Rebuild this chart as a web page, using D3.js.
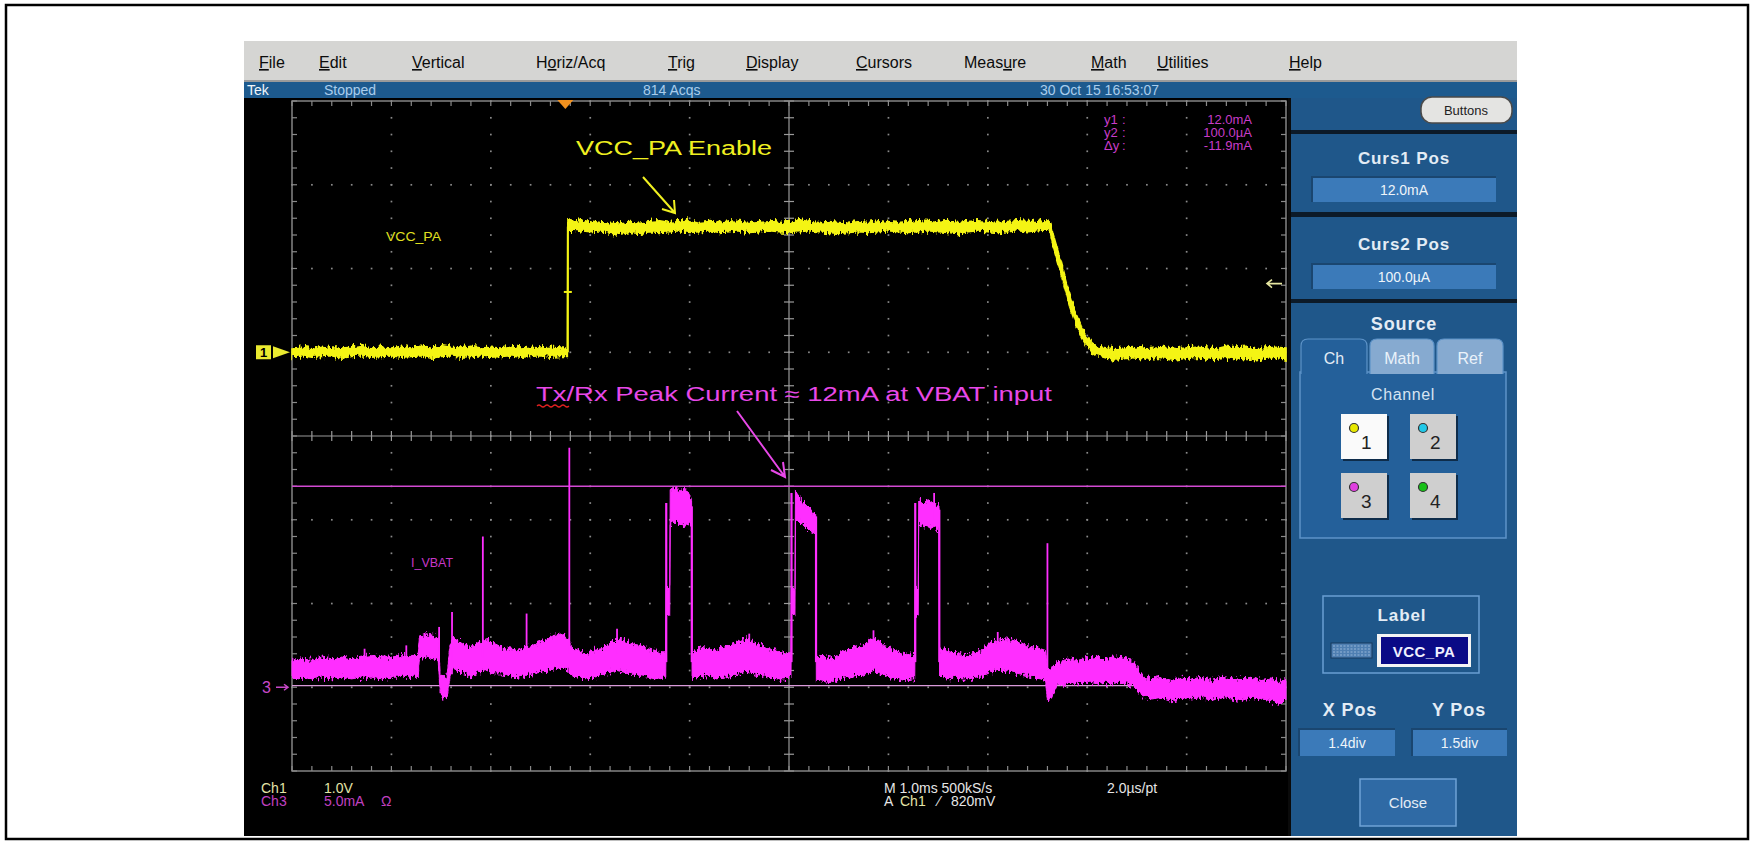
<!DOCTYPE html>
<html><head><meta charset="utf-8">
<script src="https://cdn.jsdelivr.net/npm/d3@7"></script>
<style>
body{margin:0;background:#fff;}
svg{display:block;}
text{font-family:"Liberation Sans",Arial,sans-serif;}
.sc{font-family:"Liberation Sans Narrow","Liberation Sans",Arial,sans-serif;}
</style>
</head><body>
<svg id="c" width="1754" height="843"></svg>
<script>
// ---------------- DATA ----------------
const menuItems = ["File","Edit","Vertical","Horiz/Acq","Trig","Display","Cursors","Measure","Math","Utilities","Help"];
const menuUnderline = [0,0,0,1,0,0,0,4,0,0,0];
const statusTexts = ["Tek","Stopped","814 Acqs","30 Oct 15 16:53:07"];
const timeDomainMs = [0, 10];          // 1.0 ms/div, 10 div
const ch1VoltDomain = [-5, 3];         // 1.0 V/div, ground 1 div above centre
const ch3mADomain = [-5, 35];          // 5.0 mA/div, ground 3 div below centre
const cursorValues_mA = [12.0, 0.1];
const cursorReadout = [["y1",":","12.0mA"],["y2",":","100.0µA"],["Δy",":","-11.9mA"]];
const triggerTimeMs = 2.75;
const triggerLevelV = 0.82;

// CH1 VCC_PA envelope: [time ms, low V, high V]
const vccEnvelope = [
[0,-0.05,0.05],[0.1,-0.04,0.06],[0.2,-0.06,0.04],[0.3,-0.05,0.07],[0.4,-0.04,0.05],[0.5,-0.07,0.05],
[0.6,-0.05,0.06],[0.7,-0.04,0.08],[0.8,-0.06,0.05],[0.9,-0.05,0.06],[1.0,-0.04,0.05],[1.1,-0.06,0.07],
[1.2,-0.05,0.05],[1.3,-0.04,0.06],[1.4,-0.07,0.05],[1.5,-0.05,0.08],[1.6,-0.04,0.06],[1.7,-0.06,0.05],
[1.8,-0.05,0.07],[1.9,-0.04,0.05],[2.0,-0.06,0.06],[2.1,-0.05,0.05],[2.2,-0.04,0.07],[2.3,-0.06,0.05],
[2.4,-0.05,0.06],[2.5,-0.04,0.05],[2.6,-0.06,0.06],[2.7,-0.05,0.05],[2.77,-0.05,0.05],
[2.775,1.45,1.57],[2.8,1.46,1.58],[2.9,1.45,1.56],[3.0,1.44,1.57],[3.1,1.45,1.55],[3.2,1.42,1.54],
[3.3,1.41,1.53],[3.4,1.43,1.55],[3.5,1.42,1.54],[3.6,1.44,1.56],[3.7,1.43,1.57],[3.8,1.44,1.55],
[3.9,1.45,1.56],[4.0,1.43,1.58],[4.1,1.44,1.55],[4.2,1.45,1.56],[4.3,1.43,1.55],[4.4,1.44,1.57],
[4.5,1.45,1.56],[4.6,1.43,1.55],[4.7,1.44,1.56],[4.8,1.45,1.57],[4.9,1.44,1.55],[5.0,1.43,1.56],
[5.1,1.44,1.58],[5.2,1.45,1.56],[5.3,1.44,1.55],[5.4,1.43,1.56],[5.5,1.42,1.55],[5.6,1.43,1.54],
[5.7,1.44,1.56],[5.8,1.43,1.55],[5.9,1.44,1.57],[6.0,1.45,1.56],[6.1,1.44,1.55],[6.2,1.43,1.56],
[6.3,1.44,1.57],[6.4,1.45,1.56],[6.5,1.44,1.55],[6.6,1.43,1.56],[6.7,1.42,1.55],[6.8,1.44,1.56],
[6.9,1.45,1.57],[7.0,1.44,1.56],[7.1,1.43,1.55],[7.2,1.44,1.56],[7.3,1.45,1.57],[7.4,1.44,1.56],
[7.5,1.45,1.56],[7.6,1.46,1.57],
[7.63,1.44,1.55],[7.66,1.25,1.40],[7.71,1.04,1.19],[7.76,0.83,0.97],[7.82,0.57,0.71],[7.88,0.36,0.48],
[7.94,0.19,0.31],[7.99,0.08,0.20],[8.05,0.0,0.11],[8.10,-0.04,0.07],
[8.2,-0.07,0.05],[8.3,-0.08,0.04],[8.4,-0.06,0.05],[8.5,-0.07,0.06],[8.6,-0.08,0.04],[8.7,-0.06,0.05],
[8.8,-0.07,0.06],[8.9,-0.09,0.04],[9.0,-0.07,0.05],[9.1,-0.06,0.06],[9.2,-0.08,0.05],[9.3,-0.07,0.04],
[9.4,-0.06,0.07],[9.5,-0.08,0.05],[9.6,-0.07,0.06],[9.7,-0.09,0.04],[9.8,-0.07,0.05],[9.9,-0.06,0.06],
[10,-0.08,0.05]
];
// vertical edges of CH1: [time ms, from V, to V]
const vccEdges = [[2.775, 0.0, 1.5]];

// CH3 I_VBAT envelope: [time ms, low mA, high mA]
const ivbatEnvelope = [
[0,0.5,1.6],[0.1,0.6,1.7],[0.2,0.5,1.6],[0.3,0.6,1.8],[0.4,0.5,1.7],[0.5,0.6,1.8],[0.6,0.5,1.7],
[0.7,0.6,1.8],[0.8,0.6,1.9],[0.9,0.5,1.8],[1.0,0.6,1.8],[1.1,0.6,1.9],[1.2,0.6,1.9],[1.27,0.6,1.9],
[1.28,1.7,3.0],[1.35,1.8,3.2],[1.42,1.7,3.1],[1.47,1.6,3.0],
[1.49,-0.2,0.8],[1.52,-0.7,0.6],[1.56,-0.6,0.7],[1.59,0.6,2.5],[1.62,1.2,3.0],[1.65,1.0,2.9],
[1.73,0.8,2.6],[1.81,0.6,2.4],[1.88,0.9,2.7],[1.96,1.0,2.9],[2.04,0.8,2.6],[2.11,0.8,2.4],[2.19,0.7,2.3],
[2.27,0.6,2.2],[2.35,0.7,2.4],[2.42,0.8,2.5],[2.50,0.9,2.7],[2.57,1.0,2.9],[2.64,1.1,3.1],[2.72,1.2,3.2],
[2.78,1.0,2.9],[2.81,0.7,2.4],[2.88,0.6,2.2],[2.96,0.5,2.0],[3.04,0.6,2.2],[3.11,0.7,2.3],[3.19,0.9,2.6],
[3.27,1.0,2.9],[3.34,0.9,2.8],[3.42,0.8,2.6],[3.50,0.7,2.5],[3.58,0.6,2.3],[3.65,0.5,2.2],[3.73,0.6,2.0],
[3.76,0.6,2.0],
[3.765,4.3,5.9],[3.80,4.3,5.9],[3.805,9.7,11.8],[3.85,9.9,12.0],[3.90,9.7,11.7],[3.95,9.6,11.9],
[4.0,9.8,11.5],[4.02,9.6,11.2],
[4.025,0.6,2.0],[4.07,0.5,2.2],[4.11,0.6,2.4],[4.19,0.7,2.3],[4.27,0.5,2.2],[4.35,0.6,2.4],[4.42,0.7,2.5],
[4.50,0.8,2.7],[4.57,0.9,2.9],[4.65,0.8,2.7],[4.73,0.7,2.5],[4.80,0.6,2.3],[4.88,0.5,2.2],[4.95,0.5,2.0],
[5.02,0.6,2.0],
[5.025,4.3,5.9],[5.06,4.3,5.9],[5.065,10.0,11.7],[5.10,9.9,11.4],[5.15,9.7,11.0],[5.20,9.4,10.7],
[5.24,9.3,10.5],[5.27,9.2,10.3],
[5.275,0.4,1.9],[5.31,0.4,1.9],[5.38,0.3,1.8],[5.45,0.4,1.7],[5.52,0.5,2.0],[5.60,0.6,2.3],[5.67,0.7,2.4],
[5.74,0.7,2.5],[5.80,0.9,2.8],[5.85,1.0,3.0],[5.91,0.8,2.7],[5.96,0.7,2.5],[6.03,0.6,2.3],[6.10,0.5,2.1],
[6.17,0.4,2.0],[6.24,0.5,1.9],[6.265,0.5,1.9],
[6.27,4.3,5.9],[6.30,4.3,5.9],[6.305,9.8,11.2],[6.35,9.6,11.0],[6.40,9.5,11.2],[6.45,9.6,11.0],
[6.50,9.4,10.8],[6.51,9.4,10.8],
[6.515,0.6,2.2],[6.56,0.6,2.3],[6.62,0.5,2.1],[6.67,0.6,2.1],[6.74,0.5,1.9],[6.81,0.5,1.9],[6.88,0.6,2.1],
[6.96,0.7,2.3],[7.03,0.9,2.7],[7.10,1.0,2.8],[7.17,1.0,2.9],[7.25,0.9,2.8],[7.32,0.8,2.7],[7.39,0.7,2.5],
[7.46,0.6,2.4],[7.53,0.5,2.3],[7.58,0.4,2.2],
[7.60,-0.8,1.0],[7.64,-0.6,1.2],
[7.70,0.2,1.5],[7.76,0.1,1.6],[7.82,0.3,1.7],[7.90,0.2,1.6],[7.97,0.3,1.7],[8.03,0.3,1.7],[8.10,0.2,1.8],
[8.18,0.3,1.7],[8.25,0.2,1.8],[8.32,0.3,1.8],[8.39,0.2,1.7],[8.46,0.1,1.6],
[8.52,-0.3,1.0],[8.57,-0.6,0.6],
[8.65,-0.7,0.5],[8.75,-0.6,0.6],[8.85,-0.8,0.4],[8.95,-0.6,0.6],[9.05,-0.7,0.5],[9.15,-0.6,0.6],
[9.25,-0.8,0.4],[9.35,-0.6,0.6],[9.45,-0.7,0.5],[9.55,-0.8,0.5],[9.65,-0.6,0.6],[9.75,-0.7,0.4],
[9.85,-0.8,0.5],[9.95,-1.0,0.3],[10,-0.7,0.5]
];
// narrow current spikes: [time ms, low mA, high mA]
const ivbatSpikes = [
[0.73,1.5,2.3],[1.15,1.6,2.5],[1.48,1.5,3.6],[1.61,1.5,4.5],[1.92,1.8,9.0],[2.36,2.0,4.4],
[2.79,2.0,14.3],[3.27,2.0,3.5],[4.6,2.5,3.2],[5.85,2.8,3.4],[6.46,10.0,11.6],[7.10,2.6,3.3],[7.60,1.0,8.6]
];
// pulse edges: [time ms, from mA, to mA]
const ivbatEdges = [[3.765,1.5,11.0],[4.022,1.5,10.8],[5.025,1.5,11.6],[5.272,1.5,10.2],[6.27,1.5,11.0],[6.512,1.5,10.6]];

const bottomInfo = {ch1:["Ch1","1.0V"], ch3:["Ch3","5.0mA","Ω"], horiz:["M 1.0ms 500kS/s","2.0µs/pt"], trig:["A","Ch1","⁄","820mV"]};
const panelTexts = {curs1:["Curs1 Pos","12.0mA"], curs2:["Curs2 Pos","100.0µA"], source:"Source",
  tabs:["Ch","Math","Ref"], channel:"Channel", chButtons:["1","2","3","4"], label:["Label","VCC_PA"],
  xpos:["X Pos","1.4div"], ypos:["Y Pos","1.5div"], close:"Close", buttons:"Buttons"};

// ---------------- LAYOUT ----------------
const svg = d3.select("#c");
const GL=292, GR=1286, GT=101, GB=771;
const x = d3.scaleLinear().domain(timeDomainMs).range([GL,GR]);
const yV = d3.scaleLinear().domain(ch1VoltDomain).range([GB,GT]);
const yI = d3.scaleLinear().domain(ch3mADomain).range([GB,GT]);
const xDiv = d3.scaleLinear().domain([0,10]).range([GL,GR]);
const yDiv = d3.scaleLinear().domain([-4,4]).range([GB,GT]);

// outer frame
svg.append("rect").attr("x",6).attr("y",5).attr("width",1742).attr("height",834)
  .attr("fill","#fff").attr("stroke","#000").attr("stroke-width",2.5);

// screen background
svg.append("rect").attr("x",244).attr("y",41).attr("width",1273).attr("height",795).attr("fill","#000");
// menu bar
svg.append("rect").attr("x",244).attr("y",41).attr("width",1273).attr("height",41).attr("fill","#d5d5d3");
svg.append("rect").attr("x",244).attr("y",80).attr("width",1273).attr("height",2).attr("fill","#9a9a9a");
const menuLayoutX = [259,319,412,536,668,746,856,964,1091,1157,1289];
menuItems.forEach((m,i)=>{
  const t = svg.append("text").attr("x",menuLayoutX[i]).attr("y",68).attr("font-size",16).attr("fill","#0c0c0c");
  const u = menuUnderline[i];
  if(u>0) t.append("tspan").text(m.slice(0,u));
  t.append("tspan").attr("text-decoration","underline").text(m[u]);
  t.append("tspan").text(m.slice(u+1));
});
// status bar
svg.append("rect").attr("x",244).attr("y",82).attr("width",1273).attr("height",16).attr("fill","#1d5a8e");
const statusX = [247,324,643,1040];
statusTexts.forEach((s,i)=>{
  svg.append("text").attr("class","sc").attr("x",statusX[i]).attr("y",95).attr("font-size",14)
    .attr("fill", i===0 ? "#f2f6fa" : "#a9cdec").text(s);
});

// ---------------- RIGHT PANEL ----------------
const P = svg.append("g");
P.append("rect").attr("x",1289).attr("y",98).attr("width",228).attr("height",738).attr("fill","#1f578a");
P.append("rect").attr("x",1288).attr("y",98).attr("width",3).attr("height",738).attr("fill","#0a0a0a");
[[130,4],[212,5],[299,4]].forEach(([yy,h])=>P.append("rect").attr("x",1291).attr("y",yy).attr("width",226).attr("height",h).attr("fill","#0c1a28"));
// Buttons
P.append("rect").attr("x",1421).attr("y",97).attr("width",91).attr("height",26).attr("rx",11)
  .attr("fill","#e4e4e2").attr("stroke","#4a4a4a").attr("stroke-width",1.5);
P.append("text").attr("x",1466).attr("y",115).attr("text-anchor","middle").attr("font-size",13).attr("fill","#222").text(panelTexts.buttons);
function titleText(tx,ty,s,size){P.append("text").attr("x",tx).attr("y",ty).attr("text-anchor","middle")
  .attr("font-size",size||17).attr("font-weight","bold").attr("fill","#e3ecf5").attr("letter-spacing",0.9).text(s);}
function valueBox(bx,by,bw,bh,s){
  P.append("rect").attr("x",bx).attr("y",by).attr("width",bw).attr("height",bh).attr("fill","#3b7ab9");
  P.append("path").attr("d",`M${bx},${by+bh}V${by}H${bx+bw}`).attr("fill","none").attr("stroke","#1a4670").attr("stroke-width",2);
  P.append("text").attr("x",bx+bw/2).attr("y",by+bh/2+5).attr("text-anchor","middle").attr("font-size",14)
    .attr("fill","#eef4fa").text(s);
}
titleText(1404,164,panelTexts.curs1[0]); valueBox(1312,177,184,25,panelTexts.curs1[1]);
titleText(1404,250,panelTexts.curs2[0]); valueBox(1312,264,184,25,panelTexts.curs2[1]);
titleText(1404,330,panelTexts.source,18);
// tabs
const tabX=[1301,1370,1437], tabW=[66,64,66];
P.append("rect").attr("x",1300).attr("y",372).attr("width",206).attr("height",166).attr("fill","#24609a").attr("stroke","#5d93c8").attr("stroke-width",1.5);
panelTexts.tabs.forEach((s,i)=>{
  P.append("path").attr("d",`M${tabX[i]},374V346Q${tabX[i]},339 ${tabX[i]+7},339H${tabX[i]+tabW[i]-7}Q${tabX[i]+tabW[i]},339 ${tabX[i]+tabW[i]},346V374`)
    .attr("fill", i===0 ? "#24609a" : "#86aad0").attr("stroke","#5d93c8").attr("stroke-width",1.2);
  P.append("text").attr("x",tabX[i]+tabW[i]/2).attr("y",364).attr("text-anchor","middle").attr("font-size",16)
    .attr("fill", i===0 ? "#e3ecf5" : "#eaf2fa").text(s);
});
P.append("rect").attr("x",1302).attr("y",371).attr("width",63).attr("height",4).attr("fill","#24609a");
P.append("text").attr("x",1403).attr("y",400).attr("text-anchor","middle").attr("font-size",16).attr("fill","#d6e4f2").attr("letter-spacing",0.6).text(panelTexts.channel);
const chCols = ["#e8e800","#20c8e8","#e040e0","#18c018"];
const chBtn = [[1341,414],[1410,414],[1341,473],[1410,473]];
panelTexts.chButtons.forEach((s,i)=>{
  const [bx,by]=chBtn[i];
  P.append("rect").attr("x",bx+2).attr("y",by+2).attr("width",46).attr("height",45).attr("fill","#0e2c4a");
  P.append("rect").attr("x",bx).attr("y",by).attr("width",46).attr("height",45).attr("fill", i===0 ? "#fafafa" : "#cfcfcf");
  P.append("circle").attr("cx",bx+13).attr("cy",by+14).attr("r",4.5).attr("fill",chCols[i]).attr("stroke","#333").attr("stroke-width",1.2);
  P.append("text").attr("x",bx+20).attr("y",by+35).attr("font-size",19).attr("fill","#222").text(s);
});
// label box
P.append("rect").attr("x",1323).attr("y",596).attr("width",156).attr("height",77).attr("fill","none").attr("stroke","#6a9ed2").attr("stroke-width",1.5);
titleText(1402,621,panelTexts.label[0]);
P.append("rect").attr("x",1331).attr("y",643).attr("width",41).attr("height",15).attr("fill","#4f7fb2").attr("stroke","#173a5e");
d3.range(4).forEach(k=>P.append("line").attr("x1",1333).attr("x2",1370).attr("y1",646+k*3).attr("y2",646+k*3).attr("stroke","#a8c4e2").attr("stroke-width",0.8).attr("stroke-dasharray","2,1.5"));
P.append("rect").attr("x",1377).attr("y",634).attr("width",94).attr("height",33).attr("fill","#f4f4f4");
P.append("rect").attr("x",1381).attr("y",637).attr("width",87).attr("height",27).attr("fill","#0a0a86");
P.append("text").attr("x",1424).attr("y",657).attr("text-anchor","middle").attr("font-size",15).attr("font-weight","bold").attr("fill","#f0f0ff").attr("letter-spacing",0.5).text(panelTexts.label[1]);
titleText(1350,716,panelTexts.xpos[0],18); titleText(1459,716,panelTexts.ypos[0],18);
valueBox(1299,729,96,27,panelTexts.xpos[1]); valueBox(1412,729,95,27,panelTexts.ypos[1]);
// close
P.append("rect").attr("x",1360).attr("y",779).attr("width",96).attr("height",47).attr("fill","#2f6aa5").attr("stroke","#6fa3d6").attr("stroke-width",1.5);
P.append("text").attr("x",1408).attr("y",808).attr("text-anchor","middle").attr("font-size",15).attr("fill","#e3ecf5").text(panelTexts.close);

// ---------------- GRATICULE ----------------
const G = svg.append("g");
const gridCol = "#8a8a8a";
const majors = d3.range(0,11), vmaj = d3.range(-4,5);
const minorX = d3.range(0,50.5).map(k=>k/5), minorY = d3.range(0,40.5).map(k=>k/5-4);
majors.filter(i=>i>0&&i<10&&i!==5).forEach(i=>{
  minorY.forEach(j=>G.append("rect").attr("x",xDiv(i)-0.8).attr("y",yDiv(j)-0.8).attr("width",1.7).attr("height",1.7).attr("fill",gridCol));
});
vmaj.filter(j=>j>-4&&j<4&&j!==0).forEach(j=>{
  minorX.forEach(i=>G.append("rect").attr("x",xDiv(i)-0.8).attr("y",yDiv(j)-0.8).attr("width",1.7).attr("height",1.7).attr("fill",gridCol));
});
G.append("line").attr("x1",GL).attr("x2",GR).attr("y1",yDiv(0)).attr("y2",yDiv(0)).attr("stroke","#9a9a9a").attr("stroke-width",1.2);
G.append("line").attr("x1",xDiv(5)).attr("x2",xDiv(5)).attr("y1",GT).attr("y2",GB).attr("stroke","#9a9a9a").attr("stroke-width",1.2);
minorX.forEach(i=>G.append("line").attr("x1",xDiv(i)).attr("x2",xDiv(i)).attr("y1",yDiv(0)-5).attr("y2",yDiv(0)+5).attr("stroke","#9a9a9a").attr("stroke-width",1.2));
minorY.forEach(j=>G.append("line").attr("x1",xDiv(5)-5).attr("x2",xDiv(5)+5).attr("y1",yDiv(j)).attr("y2",yDiv(j)).attr("stroke","#9a9a9a").attr("stroke-width",1.2));
G.append("rect").attr("x",GL).attr("y",GT).attr("width",GR-GL).attr("height",GB-GT).attr("fill","none").attr("stroke","#8d8d8d").attr("stroke-width",1.4);
minorX.forEach(i=>{
  G.append("line").attr("x1",xDiv(i)).attr("x2",xDiv(i)).attr("y1",GT).attr("y2",GT+5).attr("stroke",gridCol).attr("stroke-width",1.2);
  G.append("line").attr("x1",xDiv(i)).attr("x2",xDiv(i)).attr("y1",GB-5).attr("y2",GB).attr("stroke",gridCol).attr("stroke-width",1.2);
});
minorY.forEach(j=>{
  G.append("line").attr("x1",GL).attr("x2",GL+5).attr("y1",yDiv(j)).attr("y2",yDiv(j)).attr("stroke",gridCol).attr("stroke-width",1.2);
  G.append("line").attr("x1",GR-5).attr("x2",GR).attr("y1",yDiv(j)).attr("y2",yDiv(j)).attr("stroke",gridCol).attr("stroke-width",1.2);
});

// ---------------- NOISE FILTER (trace texture) ----------------
const defs = svg.append("defs");
function noiseFilter(id, freq, scale, seed){
  const f = defs.append("filter").attr("id",id).attr("filterUnits","userSpaceOnUse")
    .attr("x",GL-10).attr("y",GT-10).attr("width",GR-GL+20).attr("height",GB-GT+20)
    .attr("color-interpolation-filters","sRGB");
  f.append("feTurbulence").attr("type","fractalNoise").attr("baseFrequency",freq).attr("numOctaves",2).attr("seed",seed).attr("result","t");
  f.append("feColorMatrix").attr("in","t").attr("type","matrix")
    .attr("values","0 0 0 0 0.5  0 1 0 0 0  0 0 0 0 0  0 0 0 0 1").attr("result","m");
  f.append("feDisplacementMap").attr("in","SourceGraphic").attr("in2","m").attr("scale",scale)
    .attr("xChannelSelector","R").attr("yChannelSelector","G");
}
noiseFilter("nY","0.45 0.12",10,4);
noiseFilter("nM","0.5 0.2",12,7);

// ---------------- CURSORS ----------------
G.append("line").attr("x1",GL).attr("x2",GR).attr("y1",yI(cursorValues_mA[0])).attr("y2",yI(cursorValues_mA[0]))
  .attr("stroke","#d24ad2").attr("stroke-width",1.6);
G.append("line").attr("x1",GL).attr("x2",GR).attr("y1",yI(cursorValues_mA[1])).attr("y2",yI(cursorValues_mA[1]))
  .attr("stroke","#d99ad9").attr("stroke-width",1.4);

// ---------------- TRACES ----------------
const magenta = "#ff2eff", yellow = "#f4f414";
const areaI = d3.area().x(d=>x(d[0])).y0(d=>yI(d[1])).y1(d=>yI(d[2]));
const areaV = d3.area().x(d=>x(d[0])).y0(d=>yV(d[1])).y1(d=>yV(d[2]));
const TM = svg.append("g").attr("filter","url(#nM)");
TM.append("path").datum(ivbatEnvelope).attr("d",areaI).attr("fill",magenta).attr("stroke",magenta).attr("stroke-width",1);
svg.append("g").selectAll("line.sp").data(ivbatSpikes).join("line")
  .attr("x1",d=>x(d[0])).attr("x2",d=>x(d[0])).attr("y1",d=>yI(d[1])).attr("y2",d=>yI(d[2]))
  .attr("stroke",magenta).attr("stroke-width",1.8);
svg.append("g").selectAll("line.ed").data(ivbatEdges).join("line")
  .attr("x1",d=>x(d[0])).attr("x2",d=>x(d[0])).attr("y1",d=>yI(d[1])).attr("y2",d=>yI(d[2]))
  .attr("stroke",magenta).attr("stroke-width",2.2);

const TY = svg.append("g").attr("filter","url(#nY)");
TY.append("path").datum(vccEnvelope).attr("d",areaV).attr("fill",yellow).attr("stroke",yellow).attr("stroke-width",1.6);
svg.append("g").selectAll("line").data(vccEdges).join("line")
  .attr("x1",d=>x(d[0])).attr("x2",d=>x(d[0])).attr("y1",d=>yV(d[1])).attr("y2",d=>yV(d[2]))
  .attr("stroke",yellow).attr("stroke-width",2);
svg.append("line").attr("x1",x(vccEdges[0][0])-4).attr("x2",x(vccEdges[0][0])+4)
  .attr("y1",yV(0.72)).attr("y2",yV(0.72)).attr("stroke",yellow).attr("stroke-width",2);

// ---------------- MARKERS ----------------
svg.append("path").attr("d",`M${x(triggerTimeMs)-8},${GT-1}h16l-8,9z`).attr("fill","#f0901e");
const tl = yV(triggerLevelV);
svg.append("path").attr("d",`M${GR-4},${tl}h-15m5,-4l-5,4l5,4`).attr("fill","none").attr("stroke","#e6e6a0").attr("stroke-width",1.6);
const g1 = yV(0);
svg.append("rect").attr("x",256).attr("y",g1-7).attr("width",15).attr("height",14).attr("fill","#eaea30");
svg.append("text").attr("class","sc").attr("x",263.5).attr("y",g1+5).attr("text-anchor","middle").attr("font-size",13).attr("font-weight","bold").attr("fill","#000").text("1");
svg.append("path").attr("d",`M273,${g1-6}L290,${g1}L273,${g1+6}z`).attr("fill","#eaea30");
const g3 = yI(0);
svg.append("text").attr("class","sc").attr("x",262).attr("y",g3+6).attr("font-size",16).attr("fill","#c848c8").text("3");
svg.append("path").attr("d",`M276,${g3}h12m-4,-3l4,3l-4,3`).attr("fill","none").attr("stroke","#c848c8").attr("stroke-width",1.5);

// ---------------- ANNOTATIONS ----------------
svg.append("text").attr("x",576).attr("y",155).attr("font-size",20).attr("fill","#f0f020").attr("textLength",196).attr("lengthAdjust","spacingAndGlyphs").text("VCC_PA Enable");
svg.append("path").attr("d","M643,177L675,213M662,209L675,213L674,200").attr("fill","none").attr("stroke","#f0f020").attr("stroke-width",2);
svg.append("text").attr("class","sc").attr("x",386).attr("y",241).attr("font-size",13).attr("fill","#e0e020").attr("textLength",55).attr("lengthAdjust","spacingAndGlyphs").text("VCC_PA");
svg.append("text").attr("x",536).attr("y",401).attr("font-size",20).attr("fill","#e848e8").attr("textLength",516).attr("lengthAdjust","spacingAndGlyphs").text("Tx/Rx Peak Current ≈ 12mA at VBAT input");
svg.append("path").attr("d","M537,406q2,-2 4,0t4,0t4,0t4,0t4,0t4,0t4,0t4,0").attr("fill","none").attr("stroke","#e02020").attr("stroke-width",1.2);
svg.append("path").attr("d","M737,411L785,477M771,470L785,477L783,462").attr("fill","none").attr("stroke","#e848e8").attr("stroke-width",2);
svg.append("text").attr("class","sc").attr("x",411).attr("y",567).attr("font-size",13).attr("fill","#c838c8").attr("textLength",42).attr("lengthAdjust","spacingAndGlyphs").text("I_VBAT");

// cursor readout
cursorReadout.forEach((r,i)=>{
  const yy = 124 + i*13;
  svg.append("text").attr("class","sc").attr("x",1104).attr("y",yy).attr("font-size",13).attr("fill","#c83cc8").text(r[0]);
  svg.append("text").attr("class","sc").attr("x",1122).attr("y",yy).attr("font-size",13).attr("fill","#c83cc8").text(r[1]);
  svg.append("text").attr("class","sc").attr("x",1252).attr("y",yy).attr("text-anchor","end").attr("font-size",13).attr("fill","#c83cc8").text(r[2]);
});

// bottom info
const b1 = 793, b2 = 806;
const bt = (tx,ty,s,c)=>svg.append("text").attr("class","sc").attr("x",tx).attr("y",ty).attr("font-size",14).attr("fill",c).text(s);
bt(261,b1,bottomInfo.ch1[0],"#e4e4a8"); bt(324,b1,bottomInfo.ch1[1],"#e4e4a8");
bt(261,b2,bottomInfo.ch3[0],"#c040c0"); bt(324,b2,bottomInfo.ch3[1],"#c040c0"); bt(381,b2,bottomInfo.ch3[2],"#c040c0");
bt(884,b1,bottomInfo.horiz[0],"#e6e6e6"); bt(1107,b1,bottomInfo.horiz[1],"#e6e6e6");
bt(884,b2,bottomInfo.trig[0],"#e6e6e6"); bt(900,b2,bottomInfo.trig[1],"#e4e4a8");
bt(938,b2,bottomInfo.trig[2],"#e6e6e6"); bt(951,b2,bottomInfo.trig[3],"#e6e6e6");
</script>
</body></html>
